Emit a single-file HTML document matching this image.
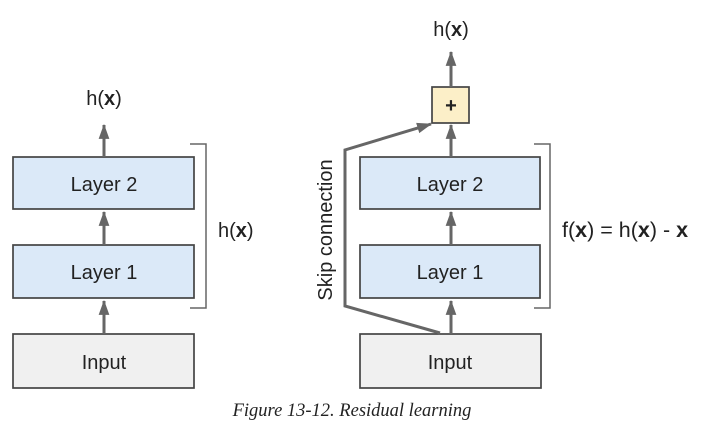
<!DOCTYPE html>
<html><head><meta charset="utf-8"><style>
html,body{margin:0;padding:0;background:#fff;}
svg{display:block;}
text{font-family:"Liberation Sans",sans-serif;fill:#222;}
</style></head><body>
<svg width="710" height="426" viewBox="0 0 710 426" xmlns="http://www.w3.org/2000/svg">
<defs>
<marker id="a" viewBox="0 0 14 10" refX="13" refY="5" markerWidth="5" markerHeight="4" orient="auto">
<path d="M0,0 L14,5 L0,10 z" fill="#666"/>
</marker>
</defs>
<g stroke="#444" stroke-width="1.7">
<rect x="13" y="157" width="181" height="52" fill="#dbe9f8"/>
<rect x="13" y="245" width="181" height="53" fill="#dbe9f8"/>
<rect x="13" y="334" width="181" height="54" fill="#f0f0f0"/>
<rect x="360" y="157" width="180" height="52" fill="#dbe9f8"/>
<rect x="360" y="245" width="180" height="53" fill="#dbe9f8"/>
<rect x="360" y="334" width="181" height="54" fill="#f0f0f0"/>
<rect x="432" y="87" width="37" height="36" fill="#fcefc8"/>
</g>
<g stroke="#666" stroke-width="3" fill="none" marker-end="url(#a)">
<line x1="104" y1="157" x2="104" y2="125"/>
<line x1="104" y1="245" x2="104" y2="212"/>
<line x1="104" y1="334" x2="104" y2="301"/>
<line x1="451" y1="87" x2="451" y2="52"/>
<line x1="451" y1="157" x2="451" y2="125"/>
<line x1="451" y1="245" x2="451" y2="212"/>
<line x1="451" y1="334" x2="451" y2="301"/>
<polyline points="440,333 345,306 345,150 431,124"/>
</g>
<g stroke="#666" stroke-width="1.5" fill="none">
<polyline points="190,144 206,144 206,308 190,308"/>
<polyline points="534,144 550,144 550,308 534,308"/>
</g>
<g font-size="20" text-anchor="middle">
<text x="104" y="191">Layer 2</text>
<text x="104" y="279">Layer 1</text>
<text x="104" y="369">Input</text>
<text x="450" y="191">Layer 2</text>
<text x="450" y="279">Layer 1</text>
<text x="450" y="369">Input</text>
<text x="104" y="105">h(<tspan font-weight="bold">x</tspan>)</text>
<text x="451" y="36">h(<tspan font-weight="bold">x</tspan>)</text>
<text x="451" y="112" font-weight="bold" font-size="20">+</text>
</g>
<text x="218" y="237" font-size="20">h(<tspan font-weight="bold">x</tspan>)</text>
<text x="562" y="237" font-size="21.5">f(<tspan font-weight="bold">x</tspan>) = h(<tspan font-weight="bold">x</tspan>) - <tspan font-weight="bold">x</tspan></text>
<text transform="translate(332,230) rotate(-90)" font-size="20" text-anchor="middle">Skip connection</text>
<text x="352" y="416" font-size="18.5" text-anchor="middle" style="font-family:'Liberation Serif',serif;font-style:italic">Figure 13-12. Residual learning</text>
</svg>
</body></html>
